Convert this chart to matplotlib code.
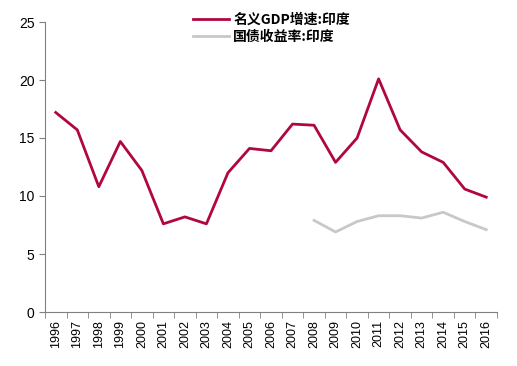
import matplotlib
matplotlib.use("Agg")
import matplotlib.pyplot as plt
import numpy as np

plt.rcParams['font.family'] = ['Liberation Sans', 'Noto Sans CJK SC', 'DejaVu Sans']

years = [str(y) for y in range(1996, 2017)]
gdp_growth = [17.2, 15.7, 10.8, 14.7, 12.2, 7.6, 8.2, 7.6, 12.0, 14.1, 13.9,
              16.2, 16.1, 12.9, 15.0, 20.1, 15.7, 13.8, 12.9, 10.6, 9.9]
bond_years = years[12:]
bond_yield = [7.9, 6.9, 7.8, 8.3, 8.3, 8.1, 8.6, 7.8, 7.1]

fig = plt.figure(figsize=(5.17, 3.66), dpi=100)
ax = fig.add_axes([45 / 517, 1 - 312 / 366, 452 / 517, 290 / 366])

x = np.arange(len(years))
xb = np.arange(len(years) - len(bond_years), len(years))
ax.plot(x, gdp_growth, color='#B0073F', lw=2, label='名义GDP增速:印度')
ax.plot(xb, bond_yield, color='#C8C8C8', lw=2, label='国债收益率:印度')

ax.set_xlim(-0.5, len(years) - 0.5)
ax.set_ylim(0, 25)
ax.set_yticks(range(0, 26, 5))
ax.set_xticks(x)
ax.set_xticklabels(years, rotation=90, fontsize=9)
ax.set_xticks(np.arange(-0.5, len(years), 1), minor=True)
ax.tick_params(axis='x', which='major', length=0, pad=6)
ax.tick_params(axis='x', which='minor', length=4, color='#808080')
ax.tick_params(axis='y', length=4, color='#808080', labelsize=10)

for s in ['top', 'right']:
    ax.spines[s].set_visible(False)
for s in ['left', 'bottom']:
    ax.spines[s].set_color('#808080')

leg = ax.legend(loc='upper left', bbox_to_anchor=(0.3, 1.075), frameon=False,
                handlelength=2.6, handletextpad=0.3, labelspacing=0.25,
                prop={'family': ['Noto Sans CJK SC'], 'weight': 'bold', 'size': 10})

fig.savefig('out.png', dpi=100)
